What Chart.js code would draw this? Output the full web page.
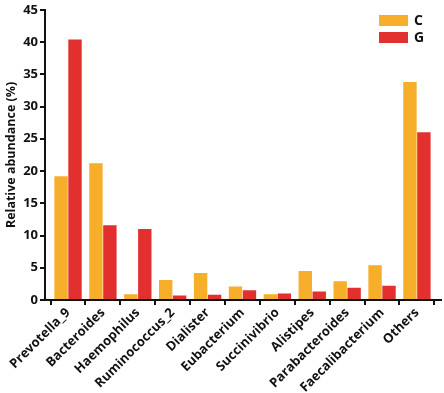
<!DOCTYPE html>
<html>
<head>
<meta charset="utf-8">
<script src="https://cdn.jsdelivr.net/npm/chart.js@4.4.1/dist/chart.umd.min.js"></script>
<style>
html,body{margin:0;padding:0;background:#fff;}
#wrap{width:444px;height:393px;position:relative;}
</style>
</head>
<body>
<div id="wrap"><canvas id="c" width="444" height="393"></canvas></div>
<script>
const categories = ["Prevotella_9","Bacteroides","Haemophilus","Ruminococcus_2","Dialister","Eubacterium","Succinivibrio","Alistipes","Parabacteroides","Faecalibacterium","Others"];
const seriesC = [19.2, 21.2, 0.9, 3.1, 4.2, 2.1, 0.9, 4.5, 2.9, 5.4, 33.8];
const seriesG = [40.4, 11.6, 11.0, 0.7, 0.8, 1.5, 1.0, 1.3, 1.9, 2.2, 26.0];
const yTicks = [0, 5, 10, 15, 20, 25, 30, 35, 40, 45];
const seriesNames = ["C", "G"];
const colors = ["#F7AE2B", "#E2302E"];

const FONT = "'Open Sans', 'DejaVu Sans', sans-serif";

const legendPlugin = {
  id: 'customLegend',
  afterDraw(chart) {
    const ctx = chart.ctx;
    ctx.save();
    chart.data.datasets.forEach((ds, i) => {
      const x = 379, y = 15 + i * 17;
      ctx.fillStyle = ds.backgroundColor;
      ctx.fillRect(x, y, 29, 11);
      ctx.fillStyle = '#111';
      ctx.font = "bold 14px " + FONT;
      ctx.textBaseline = 'middle';
      ctx.textAlign = 'left';
      ctx.fillText(ds.label, x + 35, y + 6);
    });
    ctx.restore();
  }
};

new Chart(document.getElementById('c'), {
  type: 'bar',
  data: {
    labels: categories,
    datasets: [
      { label: seriesNames[0], data: seriesC, backgroundColor: colors[0], categoryPercentage: 0.8, barPercentage: 0.96 },
      { label: seriesNames[1], data: seriesG, backgroundColor: colors[1], categoryPercentage: 0.8, barPercentage: 0.96 }
    ]
  },
  options: {
    responsive: false,
    animation: false,
    devicePixelRatio: 1,
    layout: { padding: { left: 0, right: 3, top: 0, bottom: 0 } },
    plugins: { legend: { display: false }, tooltip: { enabled: false } },
    scales: {
      x: {
        offset: true,
        grid: { display: true, drawOnChartArea: false, drawTicks: true, tickLength: 5, color: '#111', lineWidth: 2 },
        border: { display: true, color: '#111', width: 2 },
        ticks: { color: '#111', font: { family: FONT, size: 13, weight: 'bold' }, minRotation: 45, maxRotation: 45, padding: 0, autoSkip: false },
        afterFit(scale) { scale.height = 93; },
        afterBuildTicks(scale) {
          scale._startValue = -0.66;
          scale._valueRange = 11.35;
        }
      },
      y: {
        min: 0, max: 45,
        afterBuildTicks(scale) { scale.ticks = yTicks.map(v => ({ value: v })); },
        grid: { display: true, drawOnChartArea: false, drawTicks: true, tickLength: 5, color: '#111', lineWidth: 2 },
        border: { display: true, color: '#111', width: 2 },
        ticks: { color: '#111', font: { family: FONT, size: 13, weight: 'bold' }, padding: 2 },
        title: { display: true, text: 'Relative abundance (%)', color: '#111', font: { family: FONT, size: 12.5, weight: 'bold' }, padding: { top: 4, bottom: 2 } },
        afterFit(scale) { scale.width = 45; }
      }
    }
  },
  plugins: [legendPlugin]
});
</script>
</body>
</html>
